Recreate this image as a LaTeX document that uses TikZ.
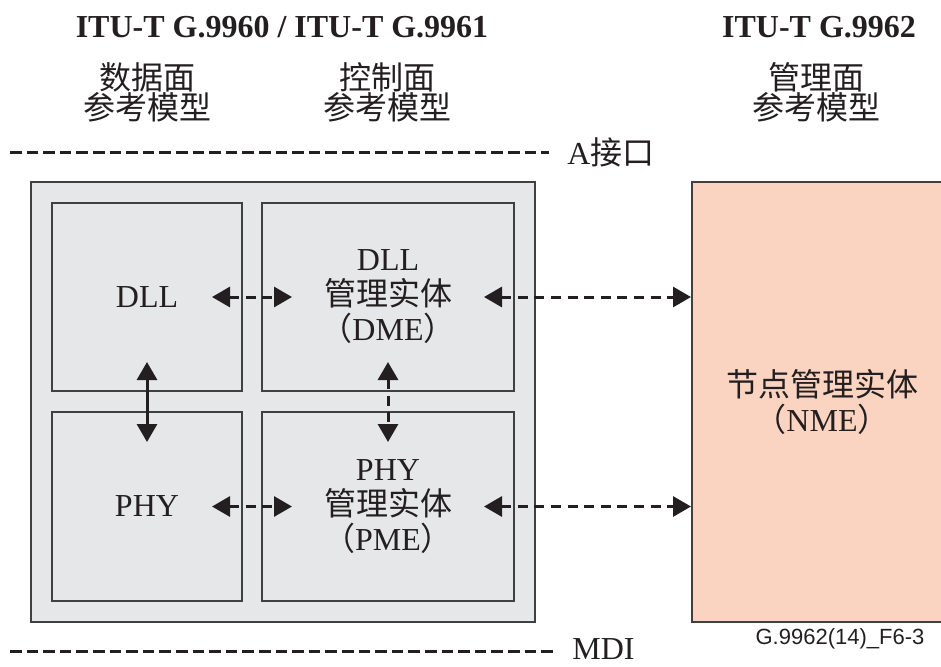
\documentclass[tikz,border=0pt]{standalone}
\usepackage{fontspec}
\setmainfont{Liberation Serif}
\newfontfamily\cjk{Noto Sans CJK SC}
\newfontfamily\figsans{Liberation Sans}
\usepackage{tikz}
\usetikzlibrary{arrows.meta,positioning}
\usepackage{xcolor}
\definecolor{boxgrey}{RGB}{230,231,232}
\definecolor{nmepeach}{RGB}{250,211,193}
\definecolor{inkdark}{RGB}{35,31,32}
\definecolor{framegrey}{RGB}{64,64,64}

\begin{document}
\begin{tikzpicture}[x=0.5pt, y=-0.5pt,
    every node/.style={text=inkdark},
    blockbox/.style={rectangle, draw=framegrey, line width=1pt, fill=boxgrey, inner sep=0pt,
        align=center, font=\fontsize{16}{17.5}\selectfont},
    nmebox/.style={blockbox, fill=nmepeach},
    stdtitle/.style={font=\fontsize{16}{18}\selectfont\bfseries},
    planelbl/.style={font=\fontsize{16}{15}\selectfont\cjk, align=center},
    iflabel/.style={inner sep=0pt, font=\fontsize{16}{18}\selectfont},
    sepline/.style={inkdark, line width=1.5pt, dash pattern=on 5.8pt off 2.5pt},
    biarrow/.style={{Triangle[length=9pt,width=10pt]}-{Triangle[length=9pt,width=10pt]},
        line width=1.5pt, inkdark},
    dasharrow/.style={biarrow, dash pattern=on 5pt off 3.3pt}]
    \useasboundingbox (0,0) rectangle (941,666);
    \clip (0,0) rectangle (941,666);

    % Column headings
    \node[stdtitle] (tdata) at (282,27) {ITU-T G.9960 / ITU-T G.9961};
    \node[stdtitle] (tmgmt) at (819,27) {ITU-T G.9962};
    \node[planelbl] (pdata) at (147,92) {数据面\\参考模型};
    \node[planelbl] (pctrl) at (387,92) {控制面\\参考模型};
    \node[planelbl] (pmgmt) at (816,92) {管理面\\参考模型};

    % A interface
    \coordinate (aleft) at (10,152);
    \node[iflabel, anchor=west] (aif) at (567,152) {A{\cjk 接口}};
    \draw[sepline] (aleft) -- ([xshift=-9pt]aif.west);

    % Data + control plane blocks
    \node[blockbox, minimum width=252pt, minimum height=220pt] (frame) at (283,402) {};
    \node[blockbox, minimum width=95pt, minimum height=94pt] (dll) at (147,297) {DLL};
    \node[blockbox, minimum width=126pt, minimum height=94pt] (dme) at (388,297)
        {DLL\\{\cjk 管理实体}\\{\cjk （}DME{\cjk ）}};
    \node[blockbox, minimum width=95pt, minimum height=94.5pt] (phy) at (147,506.5) {PHY};
    \node[blockbox, minimum width=126pt, minimum height=94.5pt] (pme) at (388,506.5)
        {PHY\\{\cjk 管理实体}\\{\cjk （}PME{\cjk ）}};

    % Management plane
    \node[nmebox, minimum width=130pt, minimum height=220pt] (nme) at (822,402)
        {{\cjk 节点管理实体}\\{\cjk （}NME{\cjk ）}};

    \draw[dasharrow] ([xshift=-15.5pt]dll.east) -- ([xshift=15.5pt]dme.west);
    \draw[dasharrow] ([xshift=-15.5pt]dme.east) -- (dme.east -| nme.west);
    \draw[dasharrow] ([xshift=-15.5pt]phy.east) -- ([xshift=15.5pt]pme.west);
    \draw[dasharrow] ([xshift=-15.5pt]pme.east) -- (pme.east -| nme.west);
    \draw[biarrow] ([yshift=15pt]dll.south) -- ([yshift=-15.5pt]phy.north);
    \draw[dasharrow] ([yshift=15pt]dme.south) -- ([yshift=-15.5pt]pme.north);

    % MDI
    \coordinate (mleft) at (10,651);
    \node[iflabel, anchor=west] (mdi) at (572,649) {MDI};
    \draw[sepline] (mleft) -- ([xshift=-8pt]mdi.west |- mleft);

    \node[font=\figsans\fontsize{11}{13}\selectfont] (figid) at (840,639) {G.9962(14)\_F6-3};
\end{tikzpicture}
\end{document}
